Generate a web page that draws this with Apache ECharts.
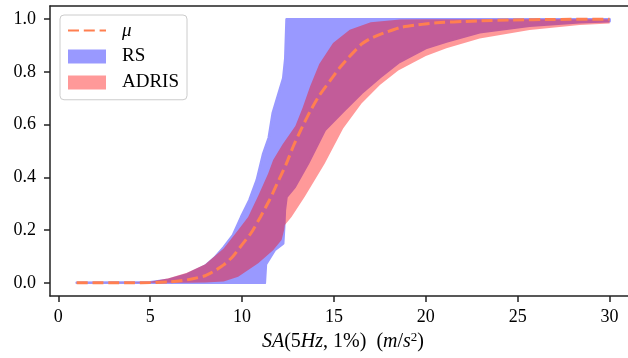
<!DOCTYPE html>
<html>
<head>
<meta charset="utf-8">
<script src="https://cdn.jsdelivr.net/npm/echarts@6/dist/echarts.min.js"></script>
<style>
html,body{margin:0;padding:0;background:#fff;}
#c{width:628px;height:358px;}
</style>
</head>
<body>
<div id="c"></div>
<script>
// mean curve
const muX = [1,2,3,4,5,6,7,8,8.5,9,9.5,10,10.5,11,11.5,12,12.4,12.8,13.2,13.7,14.2,14.77,15.3,15.8,16.5,17,17.7,18.6,19.5,20.2,21,22,23,24.7,27,30];
const muY = [0,0,0,0.0005,0.001,0.003,0.011,0.027,0.045,0.068,0.1,0.145,0.19,0.25,0.315,0.39,0.45,0.52,0.58,0.65,0.71,0.765,0.815,0.855,0.905,0.927,0.947,0.968,0.978,0.984,0.988,0.991,0.994,0.997,0.999,1.0];
// RS band
const rsUpX = [1,5,6,7,8,8.5,9,9.5,9.95,10.4,10.8,11.15,11.45,11.67,11.96,12.24,12.35,12.42,30];
const rsUpY = [0,0.002,0.012,0.032,0.065,0.095,0.135,0.18,0.25,0.314,0.39,0.49,0.55,0.645,0.712,0.776,0.85,1.0,1.0];
const rsLoX = [1,11.24,11.3,11.78,12.24,12.3,12.33,12.42,12.87,13.59,14.5,15.5,16.5,17.5,18.5,19.3,20,21.12,22.93,25.65,28.37,30];
const rsLoY = [0,0,0.07,0.124,0.149,0.22,0.276,0.326,0.364,0.453,0.579,0.65,0.72,0.78,0.835,0.865,0.89,0.915,0.95,0.975,0.988,0.992];
// ADRIS band
const adUpX = [1,4,5,6,7,8,9,9.79,10.33,10.88,11.42,11.69,12.2,12.9,13.3,13.7,14.2,14.95,15.86,17,18.6,20,30];
const adUpY = [0,0.001,0.004,0.017,0.038,0.07,0.13,0.2,0.25,0.33,0.415,0.466,0.525,0.595,0.665,0.745,0.83,0.91,0.96,0.988,0.999,1.0,1.0];
const adLoX = [1,7,8,9,9.79,10.88,11.69,12.15,12.29,12.33,12.69,13.41,14.5,15.5,16.5,17.5,18.5,19.3,20,21.12,22.93,25.65,28.37,30];
const adLoY = [0,0,0.001,0.005,0.023,0.074,0.124,0.162,0.2,0.219,0.25,0.326,0.453,0.585,0.68,0.75,0.805,0.835,0.86,0.89,0.927,0.959,0.978,0.984];
// ticks
const xTicks = [0,5,10,15,20,25,30];
const yTicks = [0,0.2,0.4,0.6,0.8,1.0];

const FONT = 'Liberation Serif';
const RS_COLOR = '#9999ff';
const AD_COLOR = 'rgba(255,0,0,0.4)';
const MU_COLOR = '#ff7f50';

function zip(xs, ys){ return xs.map((x,i)=>[x, ys[i]]); }
function bandRender(upX, upY, loX, loY, color, strokeW){
  return function(params, api){
    if (params.dataIndex !== 0) return null;
    const pts = [];
    for (let i=0;i<upX.length;i++) pts.push(api.coord([upX[i], upY[i]]));
    for (let i=loX.length-1;i>=0;i--) pts.push(api.coord([loX[i], loY[i]]));
    const style = {fill:color};
    if (strokeW) { style.stroke = color; style.lineWidth = strokeW; style.lineJoin = 'round'; }
    return {type:'polygon', shape:{points:pts}, style:style};
  };
}

const chart = echarts.init(document.getElementById('c'), null, {renderer:'canvas'});
const axisLineStyle = {color:'#222', width:1.5};
chart.setOption({
  animation:false,
  backgroundColor:'#fff',
  grid:{left:50, right:0, top:6, bottom:62},
  xAxis:[{
    type:'value', min:-0.45, max:31.0, position:'bottom',
    axisLine:{show:true, onZero:false, lineStyle:axisLineStyle},
    axisTick:{show:true, length:6, lineStyle:{color:'#222', width:1.5}, customValues:xTicks},
    axisLabel:{customValues:xTicks, margin:12, color:'#000', fontFamily:FONT, fontSize:18},
    splitLine:{show:false},
    name:'{i|SA}(5{i|Hz}, 1%)  ({i|m}/{i|s}{sup|2})',
    nameLocation:'middle', nameGap:35,
    nameTextStyle:{color:'#000', fontFamily:FONT, fontSize:20, padding:[0,0,0,8],
      rich:{i:{fontStyle:'italic', fontFamily:FONT, fontSize:20, color:'#000'},
            sup:{fontSize:13, fontFamily:FONT, color:'#000', verticalAlign:'top', padding:[0,0,9,0]}}}
  },{
    type:'value', min:-0.45, max:31.0, position:'top',
    axisLine:{show:true, onZero:false, lineStyle:axisLineStyle},
    axisTick:{show:false}, axisLabel:{show:false}, splitLine:{show:false}
  }],
  yAxis:{
    type:'value', min:-0.05, max:1.05,
    axisLine:{show:true, onZero:false, lineStyle:axisLineStyle},
    axisTick:{show:true, length:6, lineStyle:{color:'#222', width:1.5}, customValues:yTicks},
    axisLabel:{customValues:yTicks, margin:14, color:'#000', fontFamily:FONT, fontSize:18,
      formatter:v=>v.toFixed(1)},
    splitLine:{show:false}
  },
  legend:{
    orient:'vertical', left:60, top:15, padding:[6,8,7.75,7],
    itemWidth:38, itemHeight:14, itemGap:7, selectedMode:false,
    backgroundColor:'rgba(255,255,255,0.8)', borderColor:'#cccccc', borderWidth:1, borderRadius:4,
    textStyle:{fontFamily:FONT, fontSize:19, color:'#000', padding:[0,0,0,11],
      rich:{i:{fontStyle:'italic', fontFamily:FONT, fontSize:19, color:'#000'}}},
    formatter:n=> n==='μ' ? '{i|μ}' : n,
    data:[{name:'μ', itemStyle:{opacity:0, color:'rgba(0,0,0,0)', borderWidth:0}},
          {name:'RS', icon:'rect'},{name:'ADRIS', icon:'rect'}]
  },
  series:[
    {name:'RS', type:'custom', coordinateSystem:'cartesian2d', renderItem:bandRender(rsUpX, rsUpY, rsLoX, rsLoY, RS_COLOR, 2.5),
     data:zip(rsUpX, rsUpY), encode:{x:0,y:1}, itemStyle:{color:RS_COLOR}, z:1, silent:true},
    {name:'ADRIS', type:'custom', coordinateSystem:'cartesian2d', renderItem:bandRender(adUpX, adUpY, adLoX, adLoY, AD_COLOR, 0),
     data:zip(adUpX, adUpY), encode:{x:0,y:1}, itemStyle:{color:AD_COLOR}, z:2, silent:true},
    {name:'μ', type:'line', data:zip(muX, muY), symbol:'none', smooth:0.2, z:3,
     itemStyle:{color:MU_COLOR},
     lineStyle:{color:MU_COLOR, width:3, type:[11,4.8]}}
  ]
});
</script>
</body>
</html>
